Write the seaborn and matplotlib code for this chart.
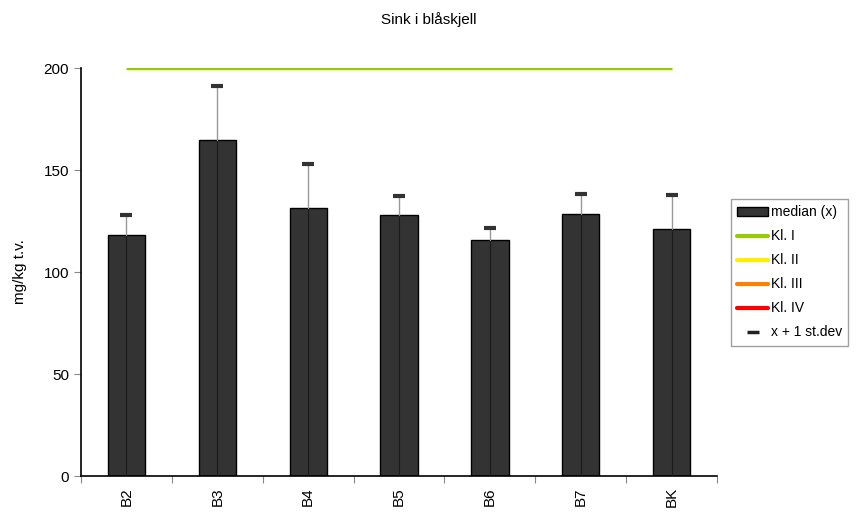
import matplotlib
matplotlib.use("Agg")
import matplotlib.pyplot as plt
import seaborn as sns
import pandas as pd
from matplotlib.lines import Line2D
from matplotlib.patches import Patch

categories = ["B2", "B3", "B4", "B5", "B6", "B7", "BK"]
median = [118.1, 164.5, 131.2, 127.8, 115.5, 128.6, 120.9]
median_plus_sd = [127.8, 191.2, 153.1, 137.3, 121.6, 138.1, 137.6]
kl1 = [200, 200, 200, 200, 200, 200, 200]

sns.set_theme(style="white")
plt.rcParams['font.family'] = ['Liberation Sans', 'DejaVu Sans']
plt.rcParams['text.color'] = 'black'
plt.rcParams['xtick.color'] = 'black'
plt.rcParams['ytick.color'] = 'black'
plt.rcParams['axes.labelcolor'] = 'black'

df = pd.DataFrame({"stasjon": categories, "median": median, "sd": median_plus_sd})

fig = plt.figure(figsize=(8.58, 5.13), dpi=100)
ax = fig.add_axes([0.0944, 0.0721, 0.7413, 0.7953])

sns.barplot(data=df, x="stasjon", y="median", color="#333333", width=0.41,
            edgecolor="black", linewidth=1.0, saturation=1, ax=ax, zorder=2)

xs = list(range(len(categories)))
for x, m, s in zip(xs, median, median_plus_sd):
    ax.plot([x, x], [0, m], color="#1a1a1a", lw=0.8, zorder=3)
    ax.plot([x, x], [m, s], color="#999999", lw=1.0, zorder=3)
ax.plot(xs, median_plus_sd, ls="none", marker="_", markersize=9, mew=3,
        color="#333333", zorder=4)

ax.plot(xs, kl1, color="#99cc00", lw=2.5, zorder=1, solid_capstyle="butt")

ax.set_xlim(-0.5, len(categories) - 0.5)
ax.set_ylim(0, 200)
ax.set_yticks([0, 50, 100, 150, 200])
ax.set_xticks([i - 0.5 for i in range(len(categories) + 1)], minor=False)
ax.set_xticklabels([])
ax.set_xticks(xs, minor=True)
ax.set_xticklabels(categories, minor=True, rotation=90, fontsize=11)
ax.tick_params(axis="x", which="minor", length=0, pad=8)
ax.tick_params(axis="x", which="major", length=5, width=0.8, color="#888888", direction="out", bottom=True)
ax.tick_params(axis="y", length=5, width=0.8, color="#888888", direction="out", left=True, labelsize=11)
ax.set_xlabel("")
ax.set_ylabel("mg/kg t.v.", fontsize=11, labelpad=12)
for sp in ["top", "right"]:
    ax.spines[sp].set_visible(False)
for sp in ["left", "bottom"]:
    ax.spines[sp].set_color("black")
    ax.spines[sp].set_linewidth(1.2)

fig.text(0.5, 0.962, "Sink i blåskjell", ha="center", va="center", fontsize=11)

handles = [
    Patch(facecolor="#333333", edgecolor="black"),
    Line2D([], [], color="#99cc00", lw=3),
    Line2D([], [], color="#ffee00", lw=3),
    Line2D([], [], color="#ff8000", lw=3),
    Line2D([], [], color="#ff0000", lw=3),
    Line2D([], [], ls="none", marker="_", markersize=9, mew=2.5, color="#222222"),
]
labels = ["median (x)", "Kl. I", "Kl. II", "Kl. III", "Kl. IV", "x + 1 st.dev"]
leg = fig.legend(handles, labels, loc="upper left", bbox_to_anchor=(0.852, 0.612),
                 fontsize=10, frameon=True, fancybox=False, edgecolor="#888888",
                 handlelength=2.2, handleheight=0.6, handletextpad=0.2,
                 labelspacing=0.72, borderpad=0.45, borderaxespad=0)
leg.get_frame().set_linewidth(1.0)

fig.savefig("out.png", dpi=100)
